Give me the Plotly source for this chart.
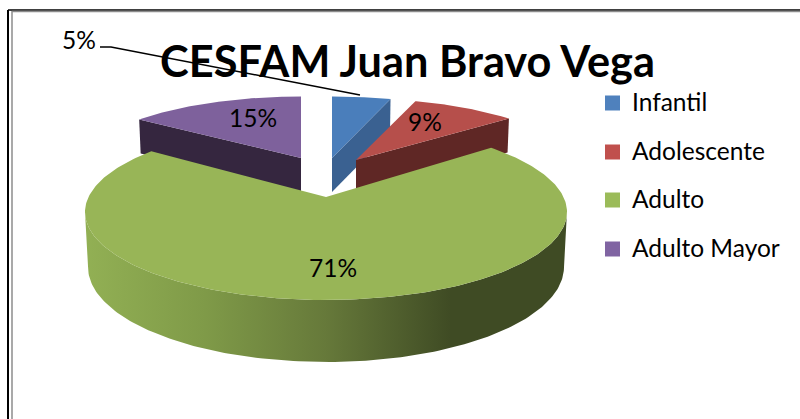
import math
import plotly.graph_objects as go

title = "CESFAM Juan Bravo Vega"
categories = ["Infantil", "Adolescente", "Adulto", "Adulto Mayor"]
values = [5, 9, 71, 15]
top_colors = ["#4A7EBB", "#B64F4B", "#98B557", "#7E619C"]
wall_colors = ["#3A6191", "#5F2725", "#98B557", "#35263F"]
legend_colors = ["#4F81BD", "#C0504D", "#9BBB59", "#8064A2"]

W, H = 800, 419
FONT = "Lato"
back = dict(a=220, b=72, p=0.17, a2=218, b2=72, p2=0.17, dy=34)
front = dict(a=237.5, b=85.5, p=0.17, a2=235, b2=92.6, p2=0.158, dy=55)
apex = [(332, 158), (356, 160), (326, 197), (301, 158)]


def rim(ax, ay, a, b, p, t0, t1, n=120):
    xs, ys = [], []
    for i in range(n + 1):
        t = math.radians(t0 + (t1 - t0) * i / n)
        X, Y = math.sin(t), math.cos(t)
        w = 1 + p * Y
        xs.append(ax + a * X / w)
        ys.append(ay - b * Y / w)
    return xs, ys


edges = [0]
for v in values:
    edges.append(edges[-1] + v * 3.6)

fig = go.Figure()

# cut walls of the rear slices: the face running from the apex to the rim
wall_edge = {0: 1, 1: 1, 3: 0}
for i in (3, 0, 1):
    g = back
    ax, ay = apex[i]
    t = edges[i + wall_edge[i]]
    tx, ty = rim(ax, ay, g["a"], g["b"], g["p"], t, t, 1)
    bx, by = rim(ax, ay + g["dy"], g["a2"], g["b2"], g["p2"], t, t, 1)
    fig.add_trace(go.Scatter(
        x=[ax, tx[0], bx[0], ax, ax], y=[ay, ty[0], by[0], ay + g["dy"], ay],
        mode="lines", line=dict(width=0), fill="toself",
        fillcolor=wall_colors[i], hoverinfo="skip", showlegend=False))
    sx, sy = rim(ax, ay, g["a"], g["b"], g["p"], edges[i], edges[i + 1])
    fig.add_trace(go.Scatter(
        x=[ax] + sx + [ax], y=[ay] + sy + [ay],
        mode="lines", line=dict(width=0), fill="toself",
        fillcolor=top_colors[i], hoverinfo="skip", showlegend=False))

# Adult slice: curved outer wall with gradient, then its top surface
ax, ay = apex[2]
g = front
tx, ty = rim(ax, ay, g["a"], g["b"], g["p"], edges[2], edges[3], 240)
bx, by = rim(ax, ay + g["dy"], g["a2"], g["b2"], g["p2"], edges[2], edges[3], 240)
# the wall silhouette runs between the rims' left and right extremes
ti0, ti1 = tx.index(max(tx)), tx.index(min(tx))
bi0, bi1 = bx.index(max(bx)), bx.index(min(bx))
wx = tx[ti0:ti1 + 1] + bx[bi0:bi1 + 1][::-1]
wy = ty[ti0:ti1 + 1] + by[bi0:bi1 + 1][::-1]
fig.add_trace(go.Scatter(
    x=wx + wx[:1], y=wy + wy[:1], mode="lines", line=dict(width=0),
    fill="toself", hoverinfo="skip", showlegend=False,
    fillgradient=dict(type="horizontal", colorscale=[
        [0, "#92B054"], [0.25, "#7F9A48"], [0.5, "#66793A"],
        [0.76, "#3F4B24"], [1, "#3F4B24"]])))
fig.add_trace(go.Scatter(
    x=[ax] + tx + [ax], y=[ay] + ty + [ay], mode="lines", line=dict(width=0),
    fill="toself", fillcolor=top_colors[2], hoverinfo="skip", showlegend=False))

# 5% leader line
fig.add_trace(go.Scatter(x=[100, 111, 360], y=[47, 47, 95], mode="lines",
                         line=dict(color="#000000", width=1.5),
                         hoverinfo="skip", showlegend=False))

# percentage labels
label_pos = [(79, 43), (425, 125), (333, 271), (253, 121)]
fig.add_trace(go.Scatter(
    x=[p[0] for p in label_pos], y=[p[1] for p in label_pos],
    text=[f"{v}%" for v in values], mode="text", textposition="middle center",
    textfont=dict(family=FONT, size=24.5, color="#000000"),
    hoverinfo="skip", showlegend=False))

# legend
legend_y = [102, 151, 199, 248]
fig.add_trace(go.Scatter(
    x=[612.5] * 4, y=[y + 1 for y in legend_y], mode="markers",
    marker=dict(symbol="square", size=15, color=legend_colors, line=dict(width=0)),
    hoverinfo="skip", showlegend=False))
fig.add_trace(go.Scatter(
    x=[632] * 4, y=[y + 3 for y in legend_y], mode="text", text=categories,
    textposition="middle right",
    textfont=dict(family=FONT, size=24.5, color="#000000"),
    hoverinfo="skip", showlegend=False))

frame = [
    dict(type="line", x0=8, x1=8, y0=10, y1=H, line=dict(color="#000000", width=2)),
    dict(type="line", x0=8, x1=W, y0=10, y1=10, line=dict(color="#000000", width=1.5)),
    dict(type="line", x0=12, x1=12, y0=11, y1=H, line=dict(color="#8C8C8C", width=1.5)),
    dict(type="line", x0=12, x1=W, y0=11.5, y1=11.5, line=dict(color="#8C8C8C", width=1.5)),
]
for s in frame:
    s["layer"] = "below"

fig.update_layout(
    width=W, height=H, margin=dict(l=0, r=0, t=0, b=0),
    paper_bgcolor="#FFFFFF", plot_bgcolor="#FFFFFF", showlegend=False,
    title=dict(text=f"<b>{title}</b>", x=407.5 / W, y=1 - 62 / H,
               xanchor="center", yanchor="middle",
               font=dict(family=FONT, size=43.3, color="#000000")),
    xaxis=dict(range=[0, W], visible=False, fixedrange=True),
    yaxis=dict(range=[H, 0], visible=False, fixedrange=True),
    shapes=frame,
)
fig.write_html("out.html", config=dict(displayModeBar=False),
               post_script="document.body.style.margin='0';document.body.style.overflow='hidden';")
